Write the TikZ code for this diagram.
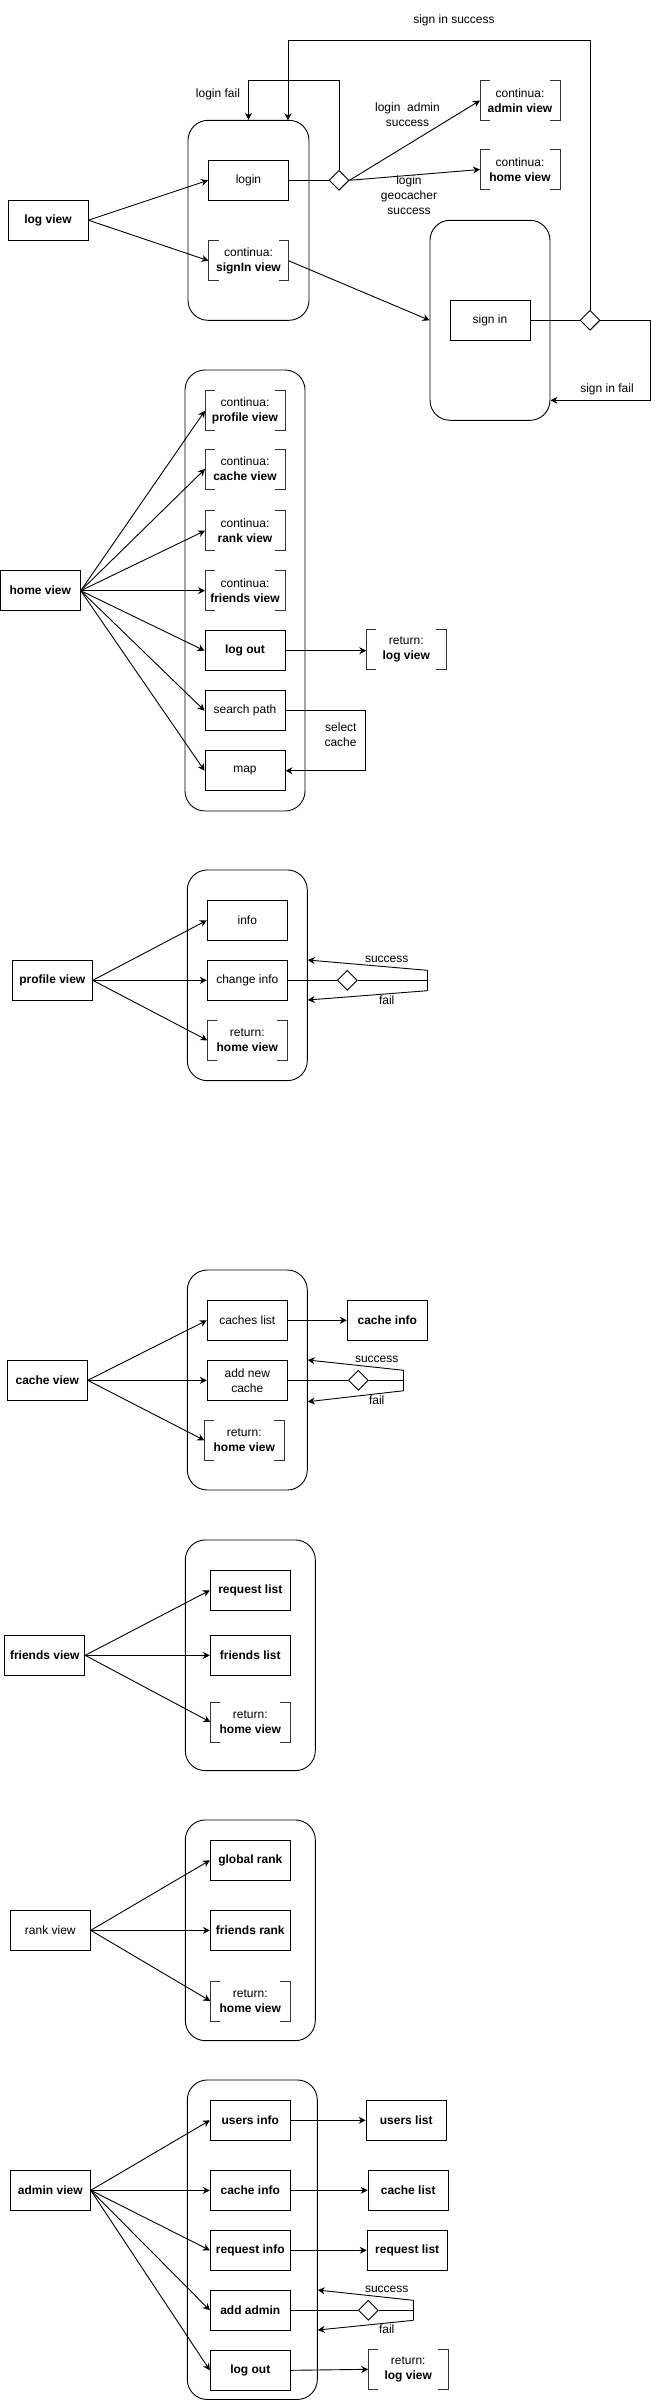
\documentclass[tikz,border=0pt]{standalone}
\usepackage{fontspec}
\setmainfont{Liberation Sans}
\usetikzlibrary{arrows.meta,shapes.geometric}

\tikzset{
  viewbox/.style={draw, minimum width=80pt, minimum height=40pt, inner sep=0pt, align=center},
  contbox/.style={minimum width=80pt, minimum height=40pt, inner sep=0pt, outer sep=0pt, align=center},
  panel/.style={draw, rounded corners=20pt, inner sep=0pt},
  choice/.style={draw, diamond, minimum width=20pt, minimum height=20pt, inner sep=0pt},
  brkline/.style={black!80}
}

\begin{document}
\fontsize{12}{15}\selectfont
\begin{tikzpicture}[x=1pt, y=-1pt, line width=0.9pt, >={Stealth[length=7pt,width=7pt]}]
    \useasboundingbox (0,0) rectangle (657,2401);

    % log view
    \node[viewbox, font=\bfseries] (logv) at (48,220.2) {log view};
    \node[panel, minimum width=121pt, minimum height=200pt] (g1) at (248.5,220.3) {};
    \node[viewbox] (login) at (248.5,180.3) {login};
    \node[contbox] (csign) at (248.5,260.7) {continua:\\\textbf{signIn view}};
    \node[choice] (dlogin) at (339,180.3) {};
    \node[contbox] (cadmin) at (520,100.5) {continua:\\\textbf{admin view}};
    \node[contbox] (chome) at (520,169.5) {continua:\\\textbf{home view}};
    \node[panel, minimum width=120pt, minimum height=200pt] (g2) at (490,320.3) {};
    \node[viewbox] (signin) at (490,320.3) {sign in};
    \node[choice] (dsign) at (590,320.3) {};
    \coordinate (g1in) at (288,120.3);

    \draw[->] (logv.east) -- (login.west);
    \draw[->] (logv.east) -- (csign.west);
    \draw (login.east) -- (dlogin.west);
    \draw[->] (dlogin.east) -- (cadmin.west);
    \draw[->] (dlogin.east) -- (chome.west);
    \draw[->] (dlogin.north) |- (g1.north |- 0,80.3) -- (g1.north);
    \draw[->] (dsign.north) |- (g1in |- 0,40.3) -- (g1in);
    \draw[->] (csign.east) -- (g2.west);
    \draw (signin.east) -- (dsign.west);
    \draw[->] (dsign.east) -| (650.5,400.3) -- (g2.east |- 0,400.3);

    \node (lfail) at (218,94.7) {login fail};
    \node[align=center] (ladmin) at (407.5,115.2) {login\ \ admin\\success};
    \node[align=center] (lgeo) at (409,195.3) {login\\geocacher\\success};
    \node (lsucc) at (454,20) {sign in success};
    \node (lsfail) at (607,389.3) {sign in fail};

    % home view
    \node[viewbox, font=\bfseries] (homev) at (40.3,590.7) {home view};
    \node[panel, minimum width=120pt, minimum height=441pt] (g3) at (245,590.5) {};
    \node[contbox] (cprof) at (245,410.7) {continua:\\\textbf{profile view}};
    \node[contbox] (ccache) at (245,469) {continua:\\\textbf{cache view}};
    \node[contbox] (crank) at (245,530.7) {continua:\\\textbf{rank view}};
    \node[contbox] (cfriends) at (245,590.7) {continua:\\\textbf{friends view}};
    \node[viewbox, font=\bfseries] (logout) at (245,650.7) {log out};
    \node[viewbox] (search) at (245,710.7) {search path};
    \node[viewbox] (map) at (245,770.7) {map};
    \node[contbox] (rlog) at (406.3,649) {return:\\\textbf{log view}};

    \foreach \t in {cprof,ccache,crank,cfriends,logout,search,map}
        \draw[->] (homev.east) -- (\t.west);
    \draw[->] (logout.east) -- (logout.east -| rlog.west);
    \draw[->] (search.east) -- ++(80pt,0) |- (map.east);
    \node[align=right, anchor=east] (lsel) at (361,735) {select\\cache};

    % profile view
    \node[viewbox, font=\bfseries] (profv) at (52.3,980.3) {profile view};
    \node[panel, minimum width=120pt, minimum height=210.7pt] (g4) at (247.3,975.3) {};
    \node[viewbox] (info) at (247.3,920.3) {info};
    \node[viewbox] (chinfo) at (247.3,980.3) {change info};
    \node[contbox] (rhome1) at (247.3,1040.3) {return:\\\textbf{home view}};
    \node[choice] (dprof) at (347.3,980.3) {};
    \coordinate (jprof) at (427.3,980.3);

    \foreach \t in {info,chinfo,rhome1}
        \draw[->] (profv.east) -- (\t.west);
    \draw (chinfo.east) -- (dprof.west);
    \draw (dprof.east) -- (jprof);
    \draw ([yshift=10pt]jprof) -- ([yshift=-10.4pt]jprof);
    \draw[->] ([yshift=10pt]jprof) -- (g4.east |- 0,960);
    \draw[->] ([yshift=-10.4pt]jprof) -- (g4.east |- 0,1000);
    \node (sprof) at (386.7,959.3) {success};
    \node (fprof) at (386.7,1000) {fail};

    % cache view
    \node[viewbox, font=\bfseries] (cachev) at (47.3,1380.3) {cache view};
    \node[panel, minimum width=120pt, minimum height=220pt] (g5) at (247.3,1380) {};
    \node[viewbox] (clist) at (247.3,1320.3) {caches list};
    \node[viewbox] (addc) at (247.3,1380.3) {add new\\cache};
    \node[contbox] (rhome2) at (244.3,1440.3) {return:\\\textbf{home view}};
    \node[viewbox, font=\bfseries] (cinfo) at (387.3,1320.3) {cache info};
    \node[choice] (dcache) at (358.3,1380.3) {};
    \coordinate (jcache) at (403.7,1380.3);

    \foreach \t in {clist,addc,rhome2}
        \draw[->] (cachev.east) -- (\t.west);
    \draw[->] (clist.east) -- (cinfo.west);
    \draw (addc.east) -- (dcache.west);
    \draw (dcache.east) -- (jcache);
    \draw ([yshift=10pt]jcache) -- ([yshift=-10.4pt]jcache);
    \draw[->] ([yshift=10pt]jcache) -- (g5.east |- 0,1360);
    \draw[->] ([yshift=-10.4pt]jcache) -- (g5.east |- 0,1401.7);
    \node (scache) at (376.7,1359.3) {success};
    \node (fcache) at (376.7,1400) {fail};

    % friends view
    \node[viewbox, font=\bfseries] (friendv) at (44.7,1655.3) {friends view};
    \node[panel, minimum width=130pt, minimum height=230.7pt] (g6) at (250.3,1655.3) {};
    \node[viewbox, font=\bfseries] (reql) at (250.3,1590.3) {request list};
    \node[viewbox, font=\bfseries] (frl) at (250.3,1655.3) {friends list};
    \node[contbox] (rhome3) at (250.3,1722) {return:\\\textbf{home view}};

    \foreach \t in {reql,frl,rhome3}
        \draw[->] (friendv.east) -- (\t.west);

    % rank view
    \node[viewbox] (rankv) at (50.3,1930.3) {rank view};
    \node[panel, minimum width=130pt, minimum height=220.7pt] (g7) at (250.3,1930.3) {};
    \node[viewbox, font=\bfseries] (glob) at (250.3,1860.3) {global rank};
    \node[viewbox, font=\bfseries] (frank) at (250.3,1930.3) {friends rank};
    \node[contbox] (rhome4) at (250.3,2001) {return:\\\textbf{home view}};

    \foreach \t in {glob,frank,rhome4}
        \draw[->] (rankv.east) -- (\t.west);

    % admin view
    \node[viewbox, font=\bfseries] (adminv) at (50.3,2190.3) {admin view};
    \node[panel, minimum width=130pt, minimum height=319.5pt] (g8) at (252.3,2239.7) {};
    \node[viewbox, font=\bfseries] (uinfo) at (250.3,2120.3) {users info};
    \node[viewbox, font=\bfseries] (ainfo) at (250.3,2190.3) {cache info};
    \node[viewbox, font=\bfseries] (rinfo) at (250.3,2250.3) {request info};
    \node[viewbox, font=\bfseries] (addadm) at (250.3,2310.3) {add admin};
    \node[viewbox, font=\bfseries] (alogout) at (250.3,2370.3) {log out};
    \node[viewbox, font=\bfseries] (ulist) at (406.2,2120.3) {users list};
    \node[viewbox, font=\bfseries] (alist) at (408.2,2190.3) {cache list};
    \node[viewbox, font=\bfseries] (rlist) at (407.2,2250.3) {request list};
    \node[contbox] (rlog2) at (408.2,2369.3) {return:\\\textbf{log view}};
    \node[choice] (dadm) at (368.3,2310.3) {};
    \coordinate (jadm) at (413.3,2310.3);

    \foreach \t in {uinfo,ainfo,rinfo,addadm,alogout}
        \draw[->] (adminv.east) -- (\t.west);
    \draw[->] (uinfo.east) -- (ulist.west);
    \draw[->] (ainfo.east) -- (alist.west);
    \draw[->] (rinfo.east) -- (rlist.west);
    \draw[->] (alogout.east) -- (rlog2.west);
    \draw (addadm.east) -- (dadm.west);
    \draw (dadm.east) -- (jadm);
    \draw ([yshift=10pt]jadm) -- ([yshift=-10pt]jadm);
    \draw[->] ([yshift=10pt]jadm) -- (g8.east |- 0,2290);
    \draw[->] ([yshift=-10pt]jadm) -- (g8.east |- 0,2330);
    \node (sadm) at (386.7,2289.3) {success};
    \node (fadm) at (386.7,2329.3) {fail};

    % brackets of the continua / return boxes
    \foreach \n in {csign,cadmin,chome,cprof,ccache,crank,cfriends,rlog,rhome1,rhome2,rhome3,rhome4,rlog2}
        \draw[brkline] ([xshift=10pt]\n.north west) -| (\n.south west) -- ++(10pt,0)
                       ([xshift=-10pt]\n.north east) -| (\n.south east) -- ++(-10pt,0);
\end{tikzpicture}
\end{document}
